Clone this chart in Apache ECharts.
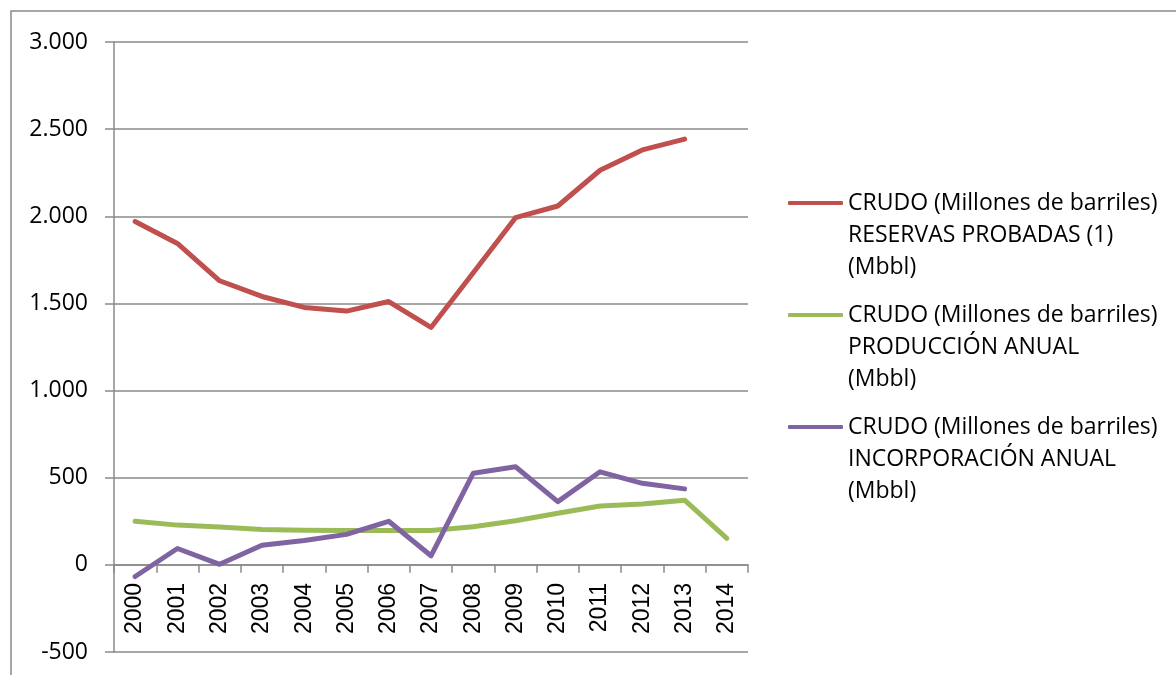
<!DOCTYPE html>
<html>
<head>
<meta charset="utf-8">
<script src="https://cdn.jsdelivr.net/npm/echarts@6/dist/echarts.min.js"></script>
<style>
html,body{margin:0;padding:0;background:#fff;}
#chart{width:1176px;height:675px;}
</style>
</head>
<body>
<div id="chart"></div>
<script>
var years = ['2000','2001','2002','2003','2004','2005','2006','2007','2008','2009','2010','2011','2012','2013','2014'];
var seriesNames = [
  'CRUDO (Millones de barriles)\nRESERVAS PROBADAS (1)\n(Mbbl)',
  'CRUDO (Millones de barriles)\nPRODUCCIÓN ANUAL\n(Mbbl)',
  'CRUDO (Millones de barriles)\nINCORPORACIÓN ANUAL\n(Mbbl)'
];
var reservas = [1970, 1844, 1630, 1540, 1477, 1456, 1511, 1362, 1676, 1992, 2059, 2264, 2381, 2443, null];
var produccion = [250, 228, 217, 203, 199, 197, 197, 197, 219, 253, 296, 338, 349, 371, 152];
var incorporacion = [-67, 94, 3, 113, 140, 175, 250, 52, 526, 563, 363, 534, 468, 436, null];
var colors = ['#C0504D', '#9BBB59', '#8064A2'];
var yTicks = { min: -500, max: 3000, interval: 500 };

function fmt(v) {
  var s = String(Math.abs(v)).replace(/\B(?=(\d{3})+(?!\d))/g, '.');
  return (v < 0 ? '-' : '') + s;
}

var gray = '#8a8a8a';
var gridTop = 42, gridBottom = 23, H = 675;
var gridH = H - gridTop - gridBottom;
// place the category axis on the zero line of the value axis
var zeroOffset = -gridH * (0 - yTicks.min) / (yTicks.max - yTicks.min);

var chart = echarts.init(document.getElementById('chart'));
var values = [reservas, produccion, incorporacion];
chart.setOption({
  animation: false,
  backgroundColor: '#fff',
  graphic: [{
    type: 'rect',
    shape: { x: 11, y: 11, width: 1300, height: 800 },
    style: { fill: 'none', stroke: gray, lineWidth: 1.5 },
    silent: true
  }],
  grid: { left: 114, top: gridTop, right: 428, bottom: gridBottom, containLabel: false, outerBoundsMode: 'none' },
  legend: {
    orient: 'vertical',
    left: 788,
    top: 123,
    padding: 0,
    itemWidth: 55,
    itemHeight: 4,
    itemGap: -48,
    icon: 'roundRect',
    textGap: 5,
    data: seriesNames,
    formatter: function (n) { return '\n\n' + n; },
    textStyle: { fontFamily: 'Open Sans', fontSize: 23, color: '#000', lineHeight: 32 }
  },
  xAxis: {
    type: 'category',
    data: years,
    boundaryGap: true,
    position: 'bottom',
    offset: zeroOffset,
    axisLine: { onZero: false, lineStyle: { color: gray, width: 1.5 } },
    axisTick: { show: true, length: 8, inside: false, alignWithLabel: false, lineStyle: { color: gray, width: 1.5 } },
    axisLabel: { rotate: 90, margin: 18, interval: 0, fontFamily: 'Liberation Sans', fontSize: 23, color: '#000' },
    splitLine: { show: false }
  },
  yAxis: {
    type: 'value',
    min: yTicks.min,
    max: yTicks.max,
    interval: yTicks.interval,
    axisLine: { show: true, lineStyle: { color: gray, width: 1.5 } },
    axisTick: { show: true, length: 9, lineStyle: { color: gray, width: 1.5 } },
    axisLabel: { margin: 26, fontFamily: 'Open Sans', fontSize: 23, color: '#000', formatter: fmt },
    splitLine: { show: true, lineStyle: { color: gray, width: 1.5 } }
  },
  series: seriesNames.map(function (n, i) {
    return {
      name: n,
      type: 'line',
      data: values[i],
      symbol: 'none',
      connectNulls: false,
      color: colors[i],
      lineStyle: { color: colors[i], width: 5, cap: 'round', join: 'round' }
    };
  })
});
</script>
</body>
</html>
